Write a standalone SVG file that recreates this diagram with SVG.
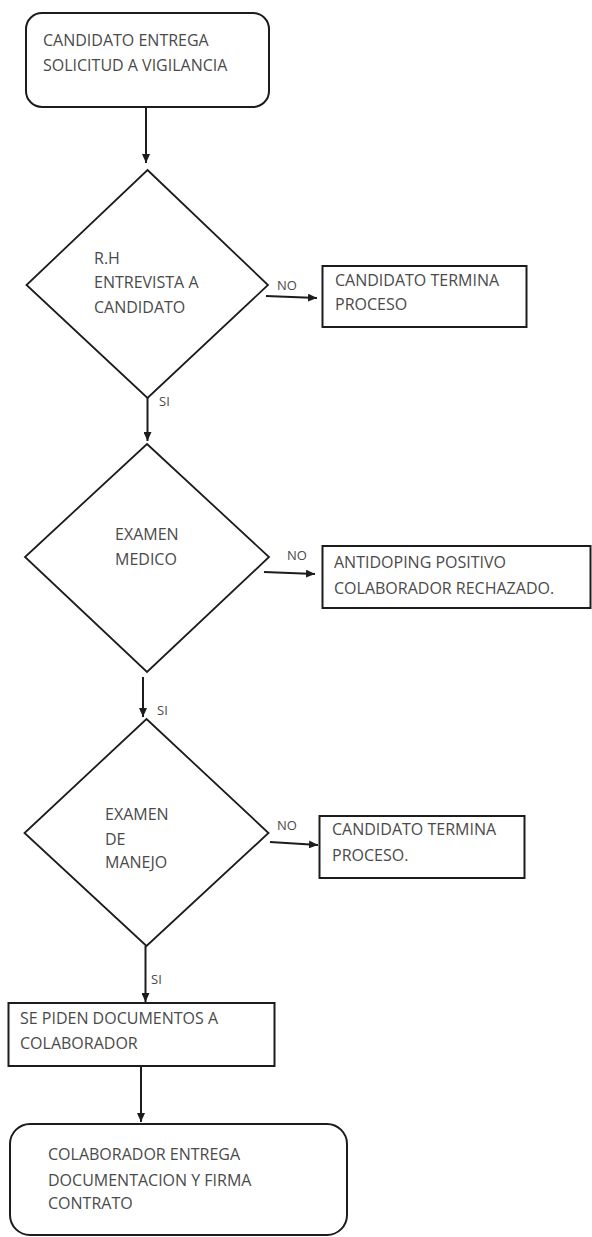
<svg xmlns="http://www.w3.org/2000/svg" width="592" height="1237" viewBox="0 0 592 1237">
<defs>
<style>
.shape{fill:#fff;stroke:#1c1c1c;stroke-width:2}
.dia{fill:#fff;stroke:#1c1c1c;stroke-width:1.8}
.t{font-family:"Open Sans","DejaVu Sans",sans-serif;font-size:16px;fill:#4a4a4a}
.lbl{font-family:"Open Sans","DejaVu Sans",sans-serif;font-size:13px;fill:#4a4a4a}
.con{stroke:#1c1c1c;stroke-width:2;fill:none;marker-end:url(#ah)}
</style>
<marker id="ah" markerUnits="userSpaceOnUse" markerWidth="9" markerHeight="8" refX="9" refY="4" orient="auto">
<path d="M0,0 L9,4 L0,8 z" fill="#1c1c1c"/>
</marker>
</defs>
<rect width="592" height="1237" fill="#fff"/>
<g id="connectors">
<line class="con" x1="146" y1="107" x2="146" y2="163"/>
<line class="con" x1="266" y1="296" x2="317" y2="298"/>
<line class="con" x1="147.5" y1="398" x2="147.5" y2="441"/>
<line class="con" x1="264" y1="572" x2="315" y2="574"/>
<line class="con" x1="143" y1="677" x2="143" y2="717"/>
<line class="con" x1="270" y1="842" x2="318" y2="845"/>
<line class="con" x1="145.5" y1="946" x2="145.5" y2="1002"/>
<line class="con" x1="141" y1="1066" x2="141" y2="1122"/>
<text class="lbl" x="277" y="290">NO</text>
<text class="lbl" x="159" y="406">SI</text>
<text class="lbl" x="287" y="560">NO</text>
<text class="lbl" x="157" y="715">SI</text>
<text class="lbl" x="277" y="830">NO</text>
<text class="lbl" x="151" y="984">SI</text>
</g>
<g id="n1">
<rect class="shape" x="26" y="13" width="243" height="94" rx="16" ry="16"/>
<text class="t" x="43" y="46">CANDIDATO ENTREGA</text>
<text class="t" x="43" y="71">SOLICITUD A VIGILANCIA</text>
</g>
<g id="d1">
<polygon class="dia" points="147.5,170 268,285 147.5,398 26.5,285"/>
<text class="t" x="94" y="264">R.H</text>
<text class="t" x="94" y="288">ENTREVISTA A</text>
<text class="t" x="94" y="313">CANDIDATO</text>
</g>
<g id="b1">
<rect class="shape" x="322.5" y="266" width="204" height="61"/>
<text class="t" x="335" y="286">CANDIDATO TERMINA</text>
<text class="t" x="335" y="310">PROCESO</text>
</g>
<g id="d2">
<polygon class="dia" points="147,444 269,557 147,672 25,557"/>
<text class="t" x="115" y="540">EXAMEN</text>
<text class="t" x="115" y="565">MEDICO</text>
</g>
<g id="b2">
<rect class="shape" x="322.5" y="546" width="268" height="62"/>
<text class="t" x="334" y="568">ANTIDOPING POSITIVO</text>
<text class="t" x="334" y="594">COLABORADOR RECHAZADO.</text>
</g>
<g id="d3">
<polygon class="dia" points="146.5,719 268.5,833 146.5,946 24.5,833"/>
<text class="t" x="105" y="820">EXAMEN</text>
<text class="t" x="105" y="845">DE</text>
<text class="t" x="105" y="868">MANEJO</text>
</g>
<g id="b3">
<rect class="shape" x="319.5" y="816" width="205" height="62"/>
<text class="t" x="332" y="835">CANDIDATO TERMINA</text>
<text class="t" x="332" y="861">PROCESO.</text>
</g>
<g id="b4">
<rect class="shape" x="8.5" y="1003" width="266" height="63"/>
<text class="t" x="20" y="1024">SE PIDEN DOCUMENTOS A</text>
<text class="t" x="20" y="1049">COLABORADOR</text>
</g>
<g id="n5">
<rect class="shape" x="10" y="1124" width="337" height="111" rx="20" ry="20"/>
<text class="t" x="48" y="1160">COLABORADOR ENTREGA</text>
<text class="t" x="48" y="1186">DOCUMENTACION Y FIRMA</text>
<text class="t" x="48" y="1209">CONTRATO</text>
</g>
</svg>
